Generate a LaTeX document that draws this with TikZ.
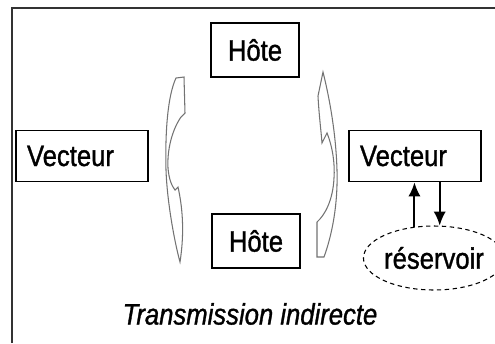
\documentclass[tikz,border=0pt]{standalone}
\usepackage{fontspec}
\setmainfont{Liberation Sans}
\newfontfamily\police[FakeBold=1.2]{Liberation Sans}
\usepackage{graphicx}
\usepackage{tikz}
\usetikzlibrary{shapes.geometric, arrows, arrows.meta, positioning, calc}
\newcommand{\etire}[1]{\scalebox{1}[1.15]{#1}}
\tikzstyle{boite} = [rectangle, minimum width=2.64cm, minimum height=1.02cm, inner xsep=0.22cm, text width=2.2cm, align=left, inner ysep=0pt, draw=black, line width=1pt, font=\police\fontsize{14.6}{16}\selectfont]
\tikzstyle{hote} = [rectangle, minimum width=1.76cm, minimum height=1.08cm, inner sep=0pt, draw=black, line width=1pt, font=\police\fontsize{14.6}{16}\selectfont]
\tikzstyle{reserve} = [ellipse, minimum width=2.48cm, minimum height=1.28cm, inner sep=0pt, draw=black, line width=0.6pt, dash pattern=on 2.5pt off 2pt, font=\police\fontsize{14.6}{16}\selectfont]
\tikzstyle{fleche} = [line width=1.1pt,->,>={Latex[length=8pt,width=7pt]}]
\tikzstyle{courbe} = [draw=black!55, line width=0.6pt, fill=white]

\begin{document}
\begin{tikzpicture}[x=0.02cm, y=-0.02cm]
\useasboundingbox (0,0) rectangle (495,343);
\draw [line width=1pt, black!80] (12,343) -- (12,8) -- (495,8);

\node (hoteA) [hote] at (255,50) {\etire{Hôte}};
\node (hoteB) [hote] at (256,241) {\etire{Hôte}};
\node (vecA) [boite] at (82,156) {\etire{Vecteur}};
\node (vecB) [boite] at (415,156) {\etire{Vecteur}};
\node (res) [reserve] at (434,258) {\etire{réservoir}};
\node (titre) [font=\police\fontsize{14.6}{16}\selectfont\itshape] at (250,314) {\etire{Transmission indirecte}};

% fleches courbes
\path [courbe] (176,78) -- (184,77) -- (185,113) -- (181,117)
  .. controls (172,130) and (167,150) .. (168,168)
  .. controls (169,180) and (172,186) .. (175,190) -- (178,187)
  .. controls (182,205) and (185,230) .. (180,262)
  .. controls (174,240) and (167,200) .. (166,170)
  .. controls (165,130) and (168,95) .. (176,78) -- cycle;
\path [courbe] (323,72) -- (318,96)
  .. controls (319,115) and (321,130) .. (322,143) -- (327,133)
  .. controls (333,148) and (335,165) .. (334,178)
  .. controls (333,200) and (325,215) .. (317,222) -- (317,257) -- (324,257)
  .. controls (332,235) and (338,205) .. (337,170)
  .. controls (336,135) and (330,100) .. (323,72) -- cycle;

\draw [fleche] (res.122) -- (res.122 |- vecB.south);
\draw [fleche] (vecB.south -| res.80) -- (res.80);
\end{tikzpicture}
\end{document}
